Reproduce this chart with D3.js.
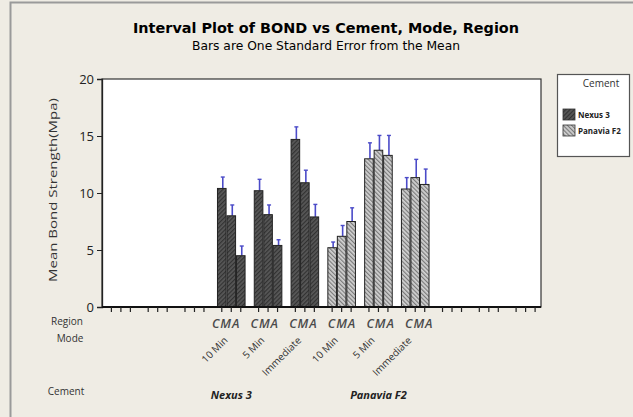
<!DOCTYPE html>
<html><head><meta charset="utf-8">
<script src="https://cdn.jsdelivr.net/npm/d3@7"></script>
<style>body{margin:0;background:#fff;}svg{display:block;}</style>
</head><body>
<script>
// ---- data ----
const cements = ["Nexus 3", "Panavia F2"];
const modes = ["10 Min", "5 Min", "Immediate"];
const regions = ["C", "M", "A"];
// slots on the axis: 3 empty, Nexus 3 modes, Panavia modes, 3 empty
const emptyLeft = ["e1", "e2", "e3"];
const emptyRight = ["e4", "e5", "e6"];
const nexusMeans = [10.4, 8.0, 4.5, 10.2, 8.1, 5.4, 14.7, 10.9, 7.9];
const nexusSE = [1.0, 0.95, 0.85, 1.0, 0.85, 0.5, 1.1, 1.1, 1.1];
const panaviaMeans = [5.2, 6.2, 7.5, 13.0, 13.75, 13.3, 10.35, 11.35, 10.75];
const panaviaSE = [0.5, 0.95, 1.2, 1.4, 1.3, 1.75, 1.0, 1.6, 1.35];
const yTicks = [0, 5, 10, 15, 20];

const W = 633, H = 417;
const svg = d3.select("body").append("svg").attr("width", W).attr("height", H);
const defs = svg.append("defs");
function hatch(id, bg, fg, angle) {
  const p = defs.append("pattern").attr("id", id).attr("patternUnits", "userSpaceOnUse")
    .attr("width", 3).attr("height", 3).attr("patternTransform", `rotate(${angle})`);
  p.append("rect").attr("width", 3).attr("height", 3).attr("fill", bg);
  p.append("rect").attr("width", 1.2).attr("height", 3).attr("fill", fg);
}
hatch("hN", "#585858", "#323232", 45);
hatch("hP", "#d2d2d2", "#7a7a7a", -45);

svg.append("rect").attr("width", W).attr("height", H).attr("fill", "#efece4");
svg.append("rect").attr("x", 10.5).attr("y", 2.5).attr("width", W - 8).attr("height", H).attr("fill", "none").attr("stroke", "#9a9a9a").attr("stroke-width", 2);

const font = "'Open Sans', 'DejaVu Sans', sans-serif";
const X0 = 102, X1 = 541, Y0 = 79, Y1 = 307;

// title
svg.append("text").attr("x", 326).attr("y", 33).attr("text-anchor", "middle")
  .attr("font-family", "'DejaVu Sans', sans-serif").attr("font-weight", "bold").attr("font-size", 14.5)
  .attr("textLength", 386).attr("lengthAdjust", "spacingAndGlyphs")
  .text("Interval Plot of BOND vs Cement, Mode, Region");
svg.append("text").attr("x", 326).attr("y", 50).attr("text-anchor", "middle")
  .attr("font-family", "'DejaVu Sans', sans-serif").attr("font-size", 12)
  .attr("textLength", 268).attr("lengthAdjust", "spacingAndGlyphs")
  .text("Bars are One Standard Error from the Mean");

// plot area
svg.append("rect").attr("x", X0).attr("y", Y0).attr("width", X1 - X0).attr("height", Y1 - Y0)
  .attr("fill", "#fff").attr("stroke", "#333").attr("stroke-width", 1.2);

const y = d3.scaleLinear().domain([0, 20]).range([Y1, Y0]);
const slots = [...emptyLeft, ...cements.flatMap(c => modes.map(m => c + "|" + m)), ...emptyRight];
const xg = d3.scaleBand().domain(slots).range([X0 + 0.5, X1 + 3]).paddingInner(0).paddingOuter(0);
const xr = d3.scaleBand().domain(regions).range([-15, 15]).padding(0.16);

// data rows
const rows = [];
cements.forEach((c, ci) => {
  const means = ci === 0 ? nexusMeans : panaviaMeans;
  const se = ci === 0 ? nexusSE : panaviaSE;
  modes.forEach((m, mi) => regions.forEach((r, ri) => {
    const k = mi * 3 + ri;
    rows.push({ c, ci, m, r, mean: means[k], se: se[k] });
  }));
});
const gc = (c, m) => xg(c + "|" + m) + xg.bandwidth() / 2;
const cx = d => gc(d.c, d.m) + xr(d.r) + xr.bandwidth() / 2;

// y axis
const yAxis = svg.append("g").attr("transform", `translate(${X0},0)`)
  .call(d3.axisLeft(y).tickValues(yTicks).tickSize(5).tickPadding(3));
yAxis.select(".domain").attr("stroke", "#222").attr("stroke-width", 1.3);
yAxis.selectAll("line").attr("stroke", "#222");
yAxis.selectAll("text").attr("font-family", font).attr("font-size", 13).attr("fill", "#222");

svg.append("text").attr("transform", `translate(57,${190}) rotate(-90)`)
  .attr("text-anchor", "middle").attr("font-family", font).attr("font-size", 10.5).attr("fill", "#333")
  .attr("textLength", 184).attr("lengthAdjust", "spacingAndGlyphs")
  .text("Mean Bond Strength(Mpa)");

// error bars (upper half)
const blue = "#4b4bc8";
const eg = svg.append("g");
eg.selectAll("line.e").data(rows).join("line").attr("class", "e")
  .attr("x1", d => cx(d) + 1).attr("x2", d => cx(d) + 1)
  .attr("y1", d => y(d.mean)).attr("y2", d => y(d.mean + d.se))
  .attr("stroke", blue).attr("stroke-width", 1.6);
eg.selectAll("line.c").data(rows).join("line").attr("class", "c")
  .attr("x1", d => cx(d) - 1).attr("x2", d => cx(d) + 3)
  .attr("y1", d => y(d.mean + d.se)).attr("y2", d => y(d.mean + d.se))
  .attr("stroke", blue).attr("stroke-width", 1.4);

// bars
const bw = 8.6;
svg.append("g").selectAll("rect").data(rows).join("rect")
  .attr("x", d => cx(d) - bw / 2).attr("width", bw)
  .attr("y", d => y(d.mean)).attr("height", d => y(0) - y(d.mean))
  .attr("fill", d => d.ci === 0 ? "url(#hN)" : "url(#hP)")
  .attr("stroke", "#222").attr("stroke-width", 1);

// x axis line and ticks
const tickXs = [];
slots.forEach(s => regions.forEach(r => tickXs.push(xg(s) + xg.bandwidth() / 2 + xr(r) + xr.bandwidth() / 2)));
svg.append("line").attr("x1", X0).attr("x2", X1).attr("y1", Y1).attr("y2", Y1).attr("stroke", "#111").attr("stroke-width", 2);
svg.append("g").selectAll("line").data(tickXs).join("line")
  .attr("x1", d => d).attr("x2", d => d).attr("y1", Y1).attr("y2", Y1 + 5)
  .attr("stroke", "#222").attr("stroke-width", 1.2);

// region labels
const midX = (gc(cements[0], modes[0]) + gc(cements[1], modes[2])) / 2;
svg.append("g").selectAll("text").data(rows).join("text")
  .attr("x", d => midX + (cx(d) - midX) * 1.05 - 1).attr("y", 328).attr("text-anchor", "middle")
  .attr("font-family", font).attr("font-style", "italic").attr("font-weight", 600).attr("font-size", 12.5).attr("fill", "#4a4a4a")
  .text(d => d.r);

// mode labels
const modeRows = cements.flatMap(c => modes.map(m => ({ c, m })));
svg.append("g").selectAll("text").data(modeRows).join("text")
  .attr("transform", d => `translate(${gc(d.c, d.m) - 3},341) rotate(-45)`)
  .attr("text-anchor", "end").attr("font-family", font).attr("font-size", 10).attr("fill", "#333")
  .text(d => d.m);

// cement labels
const cementAt = [gc(cements[0], modes[0]), gc(cements[1], modes[1])];
svg.append("g").selectAll("text").data(cements).join("text")
  .attr("x", (d, i) => cementAt[i]).attr("y", 399).attr("text-anchor", "middle")
  .attr("font-family", font).attr("font-style", "italic").attr("font-weight", "bold").attr("font-size", 11).attr("fill", "#222")
  .text(d => d);

// row labels
const rowLabels = [["Region", 67, 325], ["Mode", 70, 342], ["Cement", 66, 395]];
svg.append("g").selectAll("text").data(rowLabels).join("text")
  .attr("x", d => d[1]).attr("y", d => d[2]).attr("text-anchor", "middle")
  .attr("font-family", font).attr("font-size", 10).attr("fill", "#333").text(d => d[0]);

// legend
const lg = svg.append("g");
lg.append("rect").attr("x", 557.5).attr("y", 74.5).attr("width", 72).attr("height", 82)
  .attr("fill", "#fff").attr("stroke", "#555").attr("stroke-width", 1.2);
lg.append("text").attr("x", 601).attr("y", 87).attr("text-anchor", "middle")
  .attr("font-family", font).attr("font-size", 10).attr("fill", "#333").text("Cement");
lg.selectAll("rect.sw").data(cements).join("rect").attr("class", "sw")
  .attr("x", 563).attr("y", (d, i) => 109 + i * 16).attr("width", 12).attr("height", 11)
  .attr("fill", (d, i) => i === 0 ? "url(#hN)" : "url(#hP)").attr("stroke", "#333").attr("stroke-width", 0.8);
lg.selectAll("text.lt").data(cements).join("text").attr("class", "lt")
  .attr("x", 578).attr("y", (d, i) => 118 + i * 16)
  .attr("font-family", font).attr("font-weight", "bold").attr("font-size", 8).attr("fill", "#222")
  .text(d => d);
</script>
</body></html>
